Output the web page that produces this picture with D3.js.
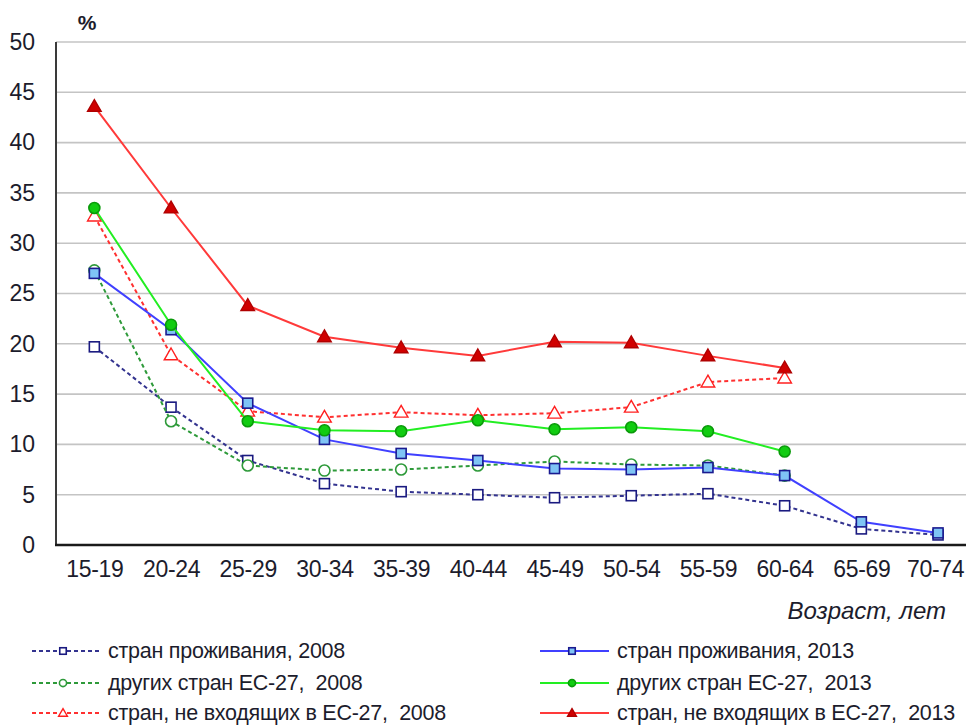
<!DOCTYPE html>
<html>
<head>
<meta charset="utf-8">
<script src="https://d3js.org/d3.v7.min.js"></script>
<style>
  html, body { margin: 0; padding: 0; background: #fff; }
  svg { display: block; font-family: "Liberation Sans", Arial, sans-serif; }
  text { white-space: pre; }
</style>
</head>
<body>
<div id="chart"></div>
<script>
// age groups and y ticks
const ages = ['15-19', '20-24', '25-29', '30-34', '35-39', '40-44', '45-49', '50-54', '55-59', '60-64', '65-69', '70-74'];
const yTicks = [0, 5, 10, 15, 20, 25, 30, 35, 40, 45, 50];

// % values
const home2008 = [19.7, 13.7, 8.4, 6.1, 5.3, 5.0, 4.7, 4.9, 5.1, 3.9, 1.6, 1.0];
const home2013 = [27.0, 21.4, 14.1, 10.5, 9.1, 8.4, 7.6, 7.5, 7.7, 6.9, 2.3, 1.2];
const eu2008 = [27.3, 12.3, 7.9, 7.4, 7.5, 7.9, 8.3, 8.0, 7.9, 6.9];
const eu2013 = [33.5, 21.9, 12.3, 11.4, 11.3, 12.4, 11.5, 11.7, 11.3, 9.3];
const nonEu2008 = [32.7, 18.9, 13.3, 12.7, 13.2, 12.9, 13.1, 13.7, 16.2, 16.6];
const nonEu2013 = [43.6, 33.5, 23.8, 20.7, 19.6, 18.8, 20.2, 20.1, 18.8, 17.6];

const legendNames = [
  'стран проживания, 2008', 'стран проживания, 2013',
  'других стран ЕС-27,  2008', 'других стран ЕС-27,  2013',
  'стран, не входящих в ЕС-27,  2008', 'стран, не входящих в ЕС-27,  2013'
];

const W = 966, H = 725;
const plotLeft = 56, plotTop = 42, plotBottom = 545;

const series = [
  { values: home2008, name: legendNames[0], line: '#33338f', dash: '4,3', shape: 'square', fill: '#fff', stroke: '#1a1a80' },
  { values: eu2008, name: legendNames[2], line: '#2e9a3a', dash: '4,3', shape: 'circle', fill: '#fff', stroke: '#2e9a3a' },
  { values: nonEu2008, name: legendNames[4], line: '#ff3030', dash: '4,3', shape: 'triangle', fill: '#fff', stroke: '#ff2020' },
  { values: home2013, name: legendNames[1], line: '#4040ff', dash: null, shape: 'square', fill: '#7fc4f5', stroke: '#1a1a90' },
  { values: eu2013, name: legendNames[3], line: '#22ee22', dash: null, shape: 'circle', fill: '#11cc11', stroke: '#0a9a0a' },
  { values: nonEu2013, name: legendNames[5], line: '#ff3a3a', dash: null, shape: 'triangle', fill: '#d00000', stroke: '#b00000' }
];

const x = d3.scalePoint().domain(ages).range([plotLeft, plotLeft + 76.7 * 12]).padding(0.5);
const y = d3.scaleLinear().domain([0, 50]).range([plotBottom, plotTop]);

const svg = d3.select('#chart').append('svg')
  .attr('width', W).attr('height', H);

// grid lines
svg.append('g')
  .selectAll('line')
  .data(yTicks.filter(d => d > 0))
  .join('line')
  .attr('x1', plotLeft).attr('x2', W)
  .attr('y1', d => y(d)).attr('y2', d => y(d))
  .attr('stroke', '#c4c4c4').attr('stroke-width', 1.6);

// y axis labels
const yAxis = svg.append('g')
  .attr('transform', `translate(${plotLeft},0)`)
  .call(d3.axisLeft(y).tickValues(yTicks).tickSize(0).tickPadding(21));
yAxis.select('.domain').remove();
yAxis.selectAll('text')
  .attr('font-size', '23px').attr('fill', '#1c1c2c')
  .attr('font-family', '"Liberation Sans", Arial, sans-serif');

svg.append('line')
  .attr('x1', plotLeft).attr('x2', plotLeft).attr('y1', plotTop).attr('y2', plotBottom)
  .attr('stroke', '#3a3a3a').attr('stroke-width', 2);

// x axis
const xAxis = svg.append('g')
  .attr('transform', `translate(0,${plotBottom})`)
  .call(d3.axisBottom(x).tickSize(0).tickPadding(16));
xAxis.select('.domain').remove();
xAxis.selectAll('text')
  .attr('font-size', '23px').attr('fill', '#1c1c2c')
  .attr('font-family', '"Liberation Sans", Arial, sans-serif')
  .attr('letter-spacing', '-0.3px')
  .attr('dx', (d, i) => i === ages.length - 1 ? -3 : 0); // last one sits at the right edge

svg.append('line')
  .attr('x1', plotLeft - 1).attr('x2', W).attr('y1', plotBottom).attr('y2', plotBottom)
  .attr('stroke', '#1a1a1a').attr('stroke-width', 2.5);

svg.append('text')
  .attr('x', 87).attr('y', 30)
  .attr('text-anchor', 'middle')
  .attr('font-size', '21px').attr('font-weight', 'bold').attr('fill', '#1c1c2c')
  .text('%');

svg.append('text')
  .attr('x', 946).attr('y', 619)
  .attr('text-anchor', 'end')
  .attr('font-size', '24px').attr('font-style', 'italic').attr('fill', '#1c1c2c')
  .text('Возраст, лет');

function marker(g, s, cx, cy, k) {
  if (s.shape === 'square') {
    const h = 5 * k;
    g.append('rect').attr('x', cx - h).attr('y', cy - h).attr('width', 2 * h).attr('height', 2 * h)
      .attr('fill', s.fill).attr('stroke', s.stroke).attr('stroke-width', 1.6);
  } else if (s.shape === 'circle') {
    g.append('circle').attr('cx', cx).attr('cy', cy).attr('r', 5.5 * k)
      .attr('fill', s.fill).attr('stroke', s.stroke).attr('stroke-width', 1.6);
  } else {
    g.append('path').attr('d', d3.symbol(d3.symbolTriangle, 80 * k * k)())
      .attr('transform', `translate(${cx},${cy + k})`)
      .attr('fill', s.fill).attr('stroke', s.stroke).attr('stroke-width', 1.4);
  }
}

const line = d3.line().x((d, i) => x(ages[i])).y(d => y(d));

series.forEach(s => {
  const g = svg.append('g');
  g.append('path')
    .attr('d', line(s.values))
    .attr('fill', 'none')
    .attr('stroke', s.line)
    .attr('stroke-width', 2)
    .attr('stroke-dasharray', s.dash);
  s.values.forEach((v, i) => marker(g, s, x(ages[i]), y(v), 1));
});

// legend
const legendPos = [
  [32, 651, 31, 76], [540, 651, 32, 77],
  [32, 683, 31, 76], [540, 683, 32, 77],
  [32, 713, 31, 76], [540, 713, 32, 77]
];
const legendOrder = [series[0], series[3], series[1], series[4], series[2], series[5]];
legendOrder.forEach((s, i) => {
  const [lx, ly, mOff, tOff] = legendPos[i];
  const g = svg.append('g');
  g.append('line')
    .attr('x1', lx).attr('x2', lx + 2 * mOff + 5).attr('y1', ly).attr('y2', ly)
    .attr('stroke', s.line).attr('stroke-width', 2)
    .attr('stroke-dasharray', s.dash);
  marker(g, s, lx + mOff, ly, 0.65);
  g.append('text')
    .attr('x', lx + tOff).attr('y', ly + 7)
    .attr('font-size', '21.5px').attr('fill', '#1c1c2c')
    .attr('letter-spacing', '-0.25px')
    .text(s.name);
});
</script>
</body>
</html>
